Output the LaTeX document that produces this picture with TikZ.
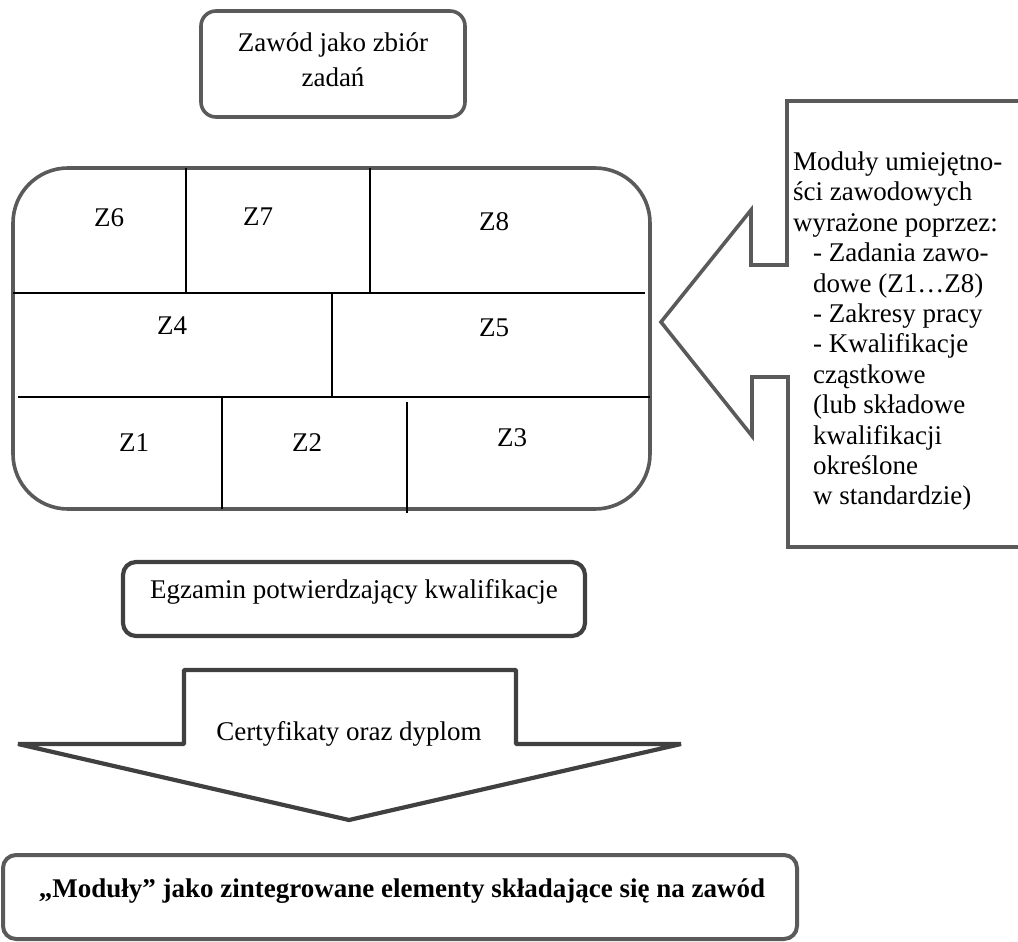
\documentclass[tikz,border=0pt]{standalone}
\usepackage{fontspec}
\setmainfont{Liberation Serif}
\definecolor{framegray}{HTML}{5A5A5A}
\definecolor{darkgray}{HTML}{404040}
\begin{document}
\begin{tikzpicture}[x=1pt,y=-1pt,
    grayline/.style={draw=framegray,line width=3.6pt,line join=miter},
    darkline/.style={draw=darkgray,line width=4.2pt,line join=miter},
    gridline/.style={draw=black,line width=2.2pt},
    txt/.style={inner sep=0pt,font=\fontsize{27}{30.4}\selectfont},
    cell/.style={txt,anchor=center}]
            \useasboundingbox (0,0) rectangle (1018,942);
            % zawod jako zbior zadan
            \draw [grayline,rounded corners=15pt] (201,11) rectangle (465,117);
            \node [txt,anchor=base] (zawod1) at (333,52) {Zawód jako zbiór};
            \node [txt,anchor=base] (zawod2) at (333,87) {zadań};
            % modules Z1..Z8
            \draw [grayline,rounded corners=55pt] (13,168) rectangle (650,509);
            \draw [gridline] (13,293)--(645,293);
            \draw [gridline] (18,397)--(650,397);
            \draw [gridline] (186,168)--(186,293);
            \draw [gridline] (370,168)--(370,293);
            \draw [gridline] (332,293)--(332,397);
            \draw [gridline] (222,397)--(222,509);
            \draw [gridline] (407,402)--(407,513);
            \node [cell] (z6) at (109,218) {Z6};
            \node [cell] (z7) at (258,217) {Z7};
            \node [cell] (z8) at (494,222) {Z8};
            \node [cell] (z4) at (172,326) {Z4};
            \node [cell] (z5) at (494,328) {Z5};
            \node [cell] (z1) at (134,443) {Z1};
            \node [cell] (z2) at (307,443) {Z2};
            \node [cell] (z3) at (512,438) {Z3};
            % callout
            \draw [grayline] (1030,101)--(787,101)--(787,265)--(751,265)--(751,210)--(661,322)
                --(752,436)--(752,377)--(788,377)--(788,547)--(1030,547);
            \node [txt,anchor=north west,align=left] (moduly) at (793,151.5)
                {Moduły umiejętno-\\ści zawodowych\\wyrażone poprzez:\\
                \hspace*{20pt}- Zadania zawo-\\\hspace*{20pt}dowe (Z1\dots Z8)\\
                \hspace*{20pt}- Zakresy pracy\\\hspace*{20pt}- Kwalifikacje\\
                \hspace*{20pt}cząstkowe\\\hspace*{20pt}(lub składowe\\
                \hspace*{20pt}kwalifikacji\\\hspace*{20pt}określone\\
                \hspace*{20pt}w standardzie)};
            % egzamin
            \draw [darkline,rounded corners=13pt] (123,562) rectangle (585,636);
            \node [txt,anchor=base] (egzamin) at (354,598) {Egzamin potwierdzający kwalifikacje};
            % arrow down
            \draw [darkline,line join=bevel] (184,670)--(516,670)--(516,744)--(681,744)--(349,820)--(18,744)--(184,744)--cycle;
            \node [txt,anchor=base] (certyfikaty) at (349,740) {Certyfikaty oraz dyplom};
            % moduly jako elementy
            \draw [grayline,line width=4pt,rounded corners=13pt] (3,855) rectangle (797,939);
            \node [txt,anchor=base,font=\fontsize{27}{30.4}\selectfont\bfseries] (zawod) at (402,897)
                {„Moduły” jako zintegrowane elementy składające się na zawód};
        \end{tikzpicture}
\end{document}
